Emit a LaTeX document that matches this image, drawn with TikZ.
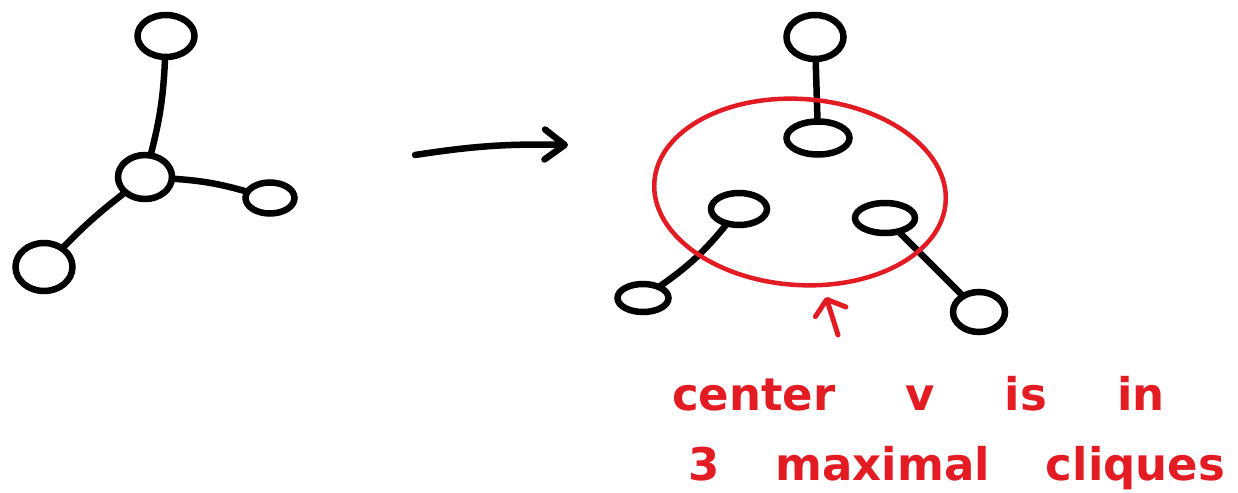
\documentclass[tikz,border=0pt]{standalone}
\usepackage{fontspec}
\setmainfont{DejaVu Sans}
\usetikzlibrary{shapes.geometric,arrows.meta}
\definecolor{pen}{HTML}{E31B23}
\begin{document}
\begin{tikzpicture}[x=1pt,y=-1pt,
  vert/.style={draw=black,line width=6.5pt,ellipse,inner sep=0pt,outer sep=0pt},
  edge/.style={draw=black,line width=6.5pt,line cap=round},
  bigarrow/.style={draw=black,line width=6.5pt,line cap=round,-{Straight Barb[length=20pt,width=30pt,round]}},
  redarrow/.style={draw=pen,line width=5pt,line cap=round,-{Straight Barb[length=13pt,width=32pt,round]}},
  clique/.style={draw=pen,line width=4.5pt,ellipse,inner sep=0pt},
  note/.style={text=pen,font=\fontsize{45}{50}\selectfont\bfseries,inner sep=0pt,anchor=base west}]
\useasboundingbox (0,0) rectangle (1238,492);
% left graph
\node[vert,minimum width=57pt,minimum height=42pt] (L1) at (166,36) {};
\node[vert,minimum width=54pt,minimum height=44pt] (L2) at (145,177) {};
\node[vert,minimum width=49pt,minimum height=31pt] (L3) at (270,198) {};
\node[vert,minimum width=57pt,minimum height=48pt] (L4) at (44,267) {};
\draw[edge] (L1) to[bend left=6] (L2);
\draw[edge] (L2) to[bend left=6] (L3);
\draw[edge] (L2) to[bend right=4] (L4);
% arrow
\coordinate (a1) at (415,155);
\coordinate (a2) at (568,145);
\draw[bigarrow] (a1) to[bend left=5] (a2);
% right graph
\node[vert,minimum width=57pt,minimum height=44pt] (R1) at (815,37) {};
\node[vert,minimum width=63pt,minimum height=33pt] (R2) at (818,138) {};
\node[vert,minimum width=56pt,minimum height=32pt] (R3) at (739,209) {};
\node[vert,minimum width=60pt,minimum height=30pt] (R4) at (885,218) {};
\node[vert,minimum width=51pt,minimum height=28pt] (R5) at (643,298) {};
\node[vert,minimum width=52pt,minimum height=40pt] (R6) at (979,312) {};
\draw[edge] (R1) -- (R2);
\draw[edge] (R3) to[bend left=8] (R5);
\draw[edge] (R4) -- (R6);
% clique
\node[clique,minimum width=292pt,minimum height=186pt,rotate=-4] (C) at (800,192) {};
\coordinate (r1) at (838,335);
\coordinate (r2) at (826,297);
\draw[redarrow] (r1) -- (r2);
\node[note] (t1) at (672,410) {\spaceskip=70pt center v is in};
\node[note] (t2) at (688,480) {\spaceskip=56pt 3 maximal cliques};
\end{tikzpicture}
\end{document}
